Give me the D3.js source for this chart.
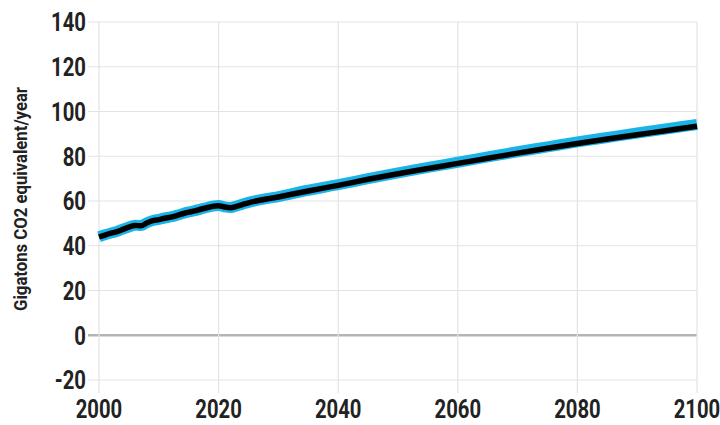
<!DOCTYPE html>
<html>
<head>
<meta charset="utf-8">
<script src="https://cdn.jsdelivr.net/npm/d3@7"></script>
<style>
  body { margin: 0; background: #fff; }
  text { font-family: Roboto, "DejaVu Sans Condensed", sans-serif; font-weight: bold; fill: #222; }
</style>
</head>
<body>
<div id="chart"></div>
<script>
var w = 720, h = 425;
var margin = { top: 22, right: 23, bottom: 45, left: 99 };
var squeeze = 0.78;   // fake a condensed face

// years: annual history, then 5-year steps
var years = [2000, 2001, 2002, 2003, 2004, 2005, 2006, 2007, 2008, 2009, 2010,
    2011, 2012, 2013, 2014, 2015, 2016, 2017, 2018, 2019, 2020, 2021, 2022, 2023, 2024,
    2025, 2030, 2035, 2040, 2045, 2050, 2055, 2060, 2065, 2070, 2075, 2080, 2085, 2090, 2095, 2100];

// blue (wide) series
var blueValues = [44.0, 44.9, 45.7, 46.4, 47.4, 48.4, 49.2, 49.0, 50.3, 51.3, 51.8,
    52.4, 52.9, 53.6, 54.4, 55.1, 55.7, 56.4, 57.1, 57.7, 58.0, 57.4, 57.1, 57.8, 58.6,
    59.4, 62.0, 64.8, 67.3, 70.0, 72.6, 75.0, 77.3, 79.7, 82.0, 84.2, 86.4, 88.4, 90.4, 92.3, 94.2];

// black (narrow) series
var blackValues = [43.9, 44.8, 45.6, 46.3, 47.3, 48.3, 49.1, 48.9, 50.2, 51.2, 51.7,
    52.3, 52.8, 53.5, 54.3, 55.0, 55.6, 56.3, 57.0, 57.6, 57.9, 57.3, 57.0, 57.6, 58.4,
    59.2, 61.8, 64.5, 67.0, 69.7, 72.2, 74.5, 76.8, 79.1, 81.4, 83.6, 85.7, 87.7, 89.6, 91.5, 93.4];

var yTicks = [-20, 0, 20, 40, 60, 80, 100, 120, 140];
var xTicks = [2000, 2020, 2040, 2060, 2080, 2100];
var yTitle = "Gigatons CO2 equivalent/year";

var svg = d3.select("#chart").append("svg")
    .attr("width", w)
    .attr("height", h);

var x = d3.scaleLinear()
    .domain([2000, 2100])
    .range([margin.left, w - margin.right]);

var y = d3.scaleLinear()
    .domain([-20, 140])
    .range([h - margin.bottom, margin.top]);

// horizontal grid
svg.append("g")
    .selectAll("line")
    .data(yTicks)
    .enter()
    .append("line")
    .attr("x1", margin.left - 11)
    .attr("x2", w - margin.right)
    .attr("y1", (d) => y(d))
    .attr("y2", (d) => y(d))
    .style("stroke", (d) => d == 0 ? "#b4b4b4" : "#e3e3e3")
    .style("stroke-width", (d) => d == 0 ? 2.5 : 1.2);

// vertical grid
svg.append("g")
    .selectAll("line")
    .data(xTicks)
    .enter()
    .append("line")
    .attr("x1", (d) => x(d))
    .attr("x2", (d) => x(d))
    .attr("y1", margin.top)
    .attr("y2", h - margin.bottom + 13)
    .style("stroke", "#e3e3e3")
    .style("stroke-width", 1.2);

// y tick labels
svg.append("g")
    .selectAll("text")
    .data(yTicks)
    .enter()
    .append("text")
    .attr("transform", (d) => `translate(${margin.left - 13}, ${y(d)}) scale(${squeeze}, 1)`)
    .attr("dy", "0.36em")
    .attr("text-anchor", "end")
    .attr("font-size", "26px")
    .text((d) => d);

// x tick labels
svg.append("g")
    .selectAll("text")
    .data(xTicks)
    .enter()
    .append("text")
    .attr("transform", (d) => `translate(${x(d)}, 418) scale(${squeeze}, 1)`)
    .attr("text-anchor", "middle")
    .attr("font-size", "26px")
    .text((d) => d);

// axis title
svg.append("text")
    .attr("transform", `translate(27, ${(margin.top + h - margin.bottom) / 2 - 2}) rotate(-90) scale(0.88, 1)`)
    .attr("text-anchor", "middle")
    .attr("font-size", "19px")
    .text(yTitle);

var line = d3.line()
    .x((d) => x(d[0]))
    .y((d) => y(d[1]))
    .curve(d3.curveMonotoneX);

svg.append("path")
    .datum(years.map((yr, i) => [yr, blueValues[i]]))
    .attr("d", line)
    .style("fill", "none")
    .style("stroke", "#1ab4e8")
    .style("stroke-width", 11)
    .style("stroke-linejoin", "round");

svg.append("path")
    .datum(years.map((yr, i) => [yr, blackValues[i]]))
    .attr("d", line)
    .style("fill", "none")
    .style("stroke", "#000")
    .style("stroke-width", 5.5)
    .style("stroke-linejoin", "round");
</script>
</body>
</html>
